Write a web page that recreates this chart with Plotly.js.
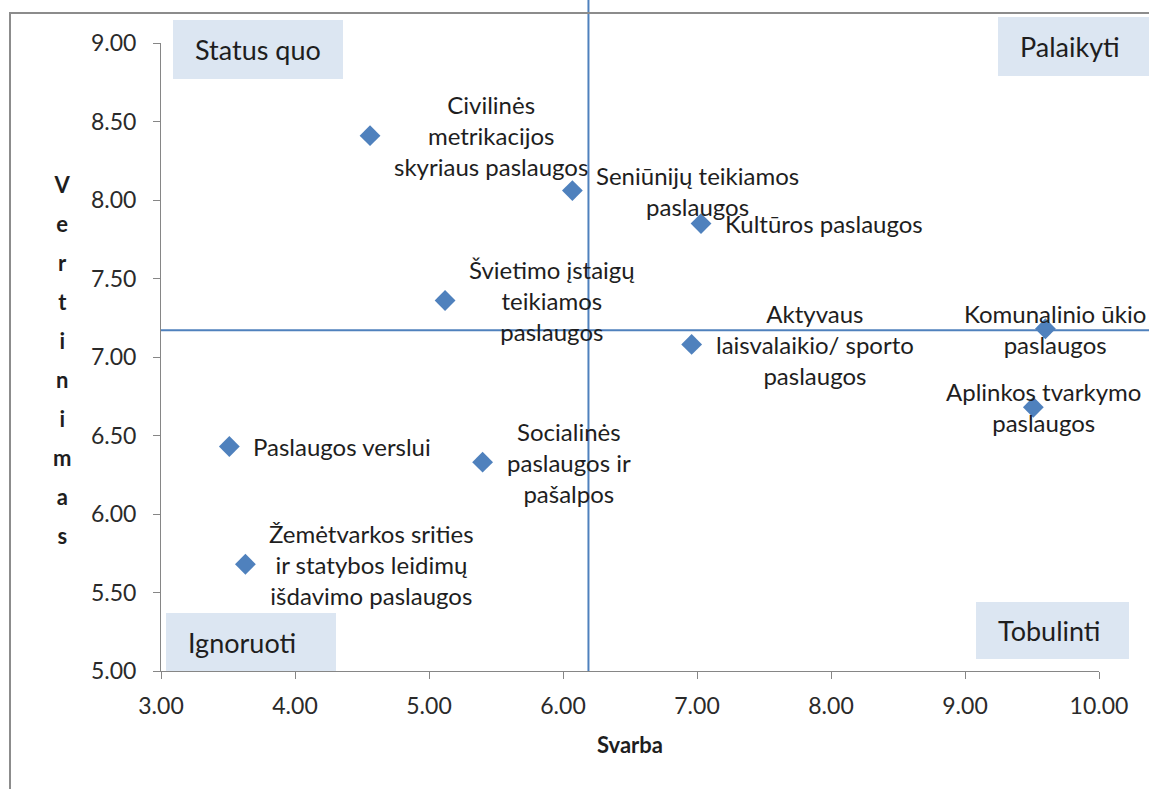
<!DOCTYPE html>
<html><head><meta charset="utf-8">
<script src="https://cdn.plot.ly/plotly-3.0.1.min.js"></script>
<style>html,body{margin:0;padding:0;background:#fff}</style>
</head><body><div id="chart" style="width:1149px;height:789px"></div>
<script>
// ---- data ----
const services = [
  "Civilinės<br>metrikacijos<br>skyriaus paslaugos",
  "Seniūnijų teikiamos<br>paslaugos",
  "Kultūros paslaugos",
  "Švietimo įstaigų<br>teikiamos<br>paslaugos",
  "Aktyvaus<br>laisvalaikio/ sporto<br>paslaugos",
  "Komunalinio ūkio<br>paslaugos",
  "Aplinkos tvarkymo<br>paslaugos",
  "Paslaugos verslui",
  "Socialinės<br>paslaugos ir<br>pašalpos",
  "Žemėtvarkos srities<br>ir statybos leidimų<br>išdavimo paslaugos"
];
const svarba = [4.56, 6.07, 7.03, 5.12, 6.96, 9.60, 9.51, 3.51, 5.40, 3.63];
const vertinimas = [8.41, 8.06, 7.85, 7.36, 7.08, 7.18, 6.68, 6.43, 6.33, 5.68];
const labelPlacement = ["right","right","right","right","right","center","center","right","right","right"];
const svarbaRiba = 6.19;
const vertinimasRiba = 7.17;
const quadrantLabels = ["Status quo", "Palaikyti", "Ignoruoti", "Tobulinti"];
const xTickVals = [3, 4, 5, 6, 7, 8, 9, 10];
const yTickVals = [5, 5.5, 6, 6.5, 7, 7.5, 8, 8.5, 9];
const xTitle = "Svarba";
const yTitle = "Vertinimas";

// ---- geometry / style ----
const FONT = "Lato, 'Open Sans', sans-serif";
const TXT = "#1e1e1e";
const BLUE = "#4F81BD";
const GRAY = "#868686";
const L = 161, T = 43, W = 938, H = 628;
const px = v => (v - L) / W;
const py = v => (T + H - v) / H;

const trace = {
  type: "scatter", mode: "markers",
  x: svarba, y: vertinimas, text: services,
  marker: {symbol: "diamond", size: 16, color: BLUE},
  cliponaxis: false, hoverinfo: "text", showlegend: false
};

const annotations = services.map((s, i) => ({
  x: svarba[i], y: vertinimas[i], xref: "x", yref: "y",
  text: s, showarrow: false,
  xanchor: labelPlacement[i] === "right" ? "left" : "center",
  yanchor: "middle",
  xshift: labelPlacement[i] === "right" ? 22 : 10,
  align: "center",
  font: {family: FONT, size: 24, color: TXT}
}));

// quadrant label boxes (pixel boxes: x0,x1,y0,y1)
const boxes = [
  [173, 343, 20, 79],
  [998, 1170, 17, 76],
  [166, 336, 613, 671],
  [976, 1129, 602, 659]
];
const shapes = [];
boxes.forEach((b, i) => {
  shapes.push({type: "rect", xref: "paper", yref: "paper",
    x0: px(b[0]), x1: px(b[1]), y0: py(b[3]), y1: py(b[2]),
    fillcolor: "#DCE6F2", line: {width: 0}, layer: "below"});
  annotations.push({xref: "paper", yref: "paper",
    x: px(b[0] + 20), y: py((b[2] + b[3]) / 2),
    xanchor: "left", yanchor: "middle", showarrow: false,
    text: quadrantLabels[i],
    font: {family: FONT, size: 27, color: TXT}});
});

// reference lines
shapes.push({type: "line", xref: "x", yref: "paper",
  x0: svarbaRiba, x1: svarbaRiba, y0: 0, y1: py(0),
  line: {color: BLUE, width: 2}});
shapes.push({type: "line", xref: "paper", yref: "y",
  x0: 0, x1: px(1160), y0: vertinimasRiba, y1: vertinimasRiba,
  line: {color: BLUE, width: 2}});

// outer frame
shapes.push({type: "rect", xref: "paper", yref: "paper",
  x0: px(10), x1: px(1175), y0: py(810), y1: py(13),
  line: {color: "#8C8C8C", width: 2}, fillcolor: "rgba(0,0,0,0)"});

// vertical y-axis title
annotations.push({xref: "paper", yref: "paper",
  x: px(62), y: py(360), xanchor: "center", yanchor: "middle",
  showarrow: false, align: "center",
  text: yTitle.split("").map(c => "<span style='font-size:22px'>" + c + "</span>").join("<br>"),
  font: {family: FONT, size: 30, color: TXT, weight: 700}});

const layout = {
  width: 1149, height: 789,
  margin: {l: L, r: 1149 - L - W, t: T, b: 789 - T - H},
  paper_bgcolor: "#fff", plot_bgcolor: "#fff",
  showlegend: false,
  font: {family: FONT, color: TXT},
  xaxis: {
    range: [3, 10], tickvals: xTickVals, tickformat: ".2f",
    showgrid: false, zeroline: false, showline: true,
    linecolor: GRAY, linewidth: 1, ticks: "outside", ticklen: 7, tickcolor: GRAY,
    tickfont: {family: FONT, size: 23, color: "#2a2a2a"},
    ticklabelstandoff: 7,
    title: {text: xTitle, font: {family: FONT, size: 22, color: TXT, weight: 700}, standoff: 20}
  },
  yaxis: {
    range: [5, 9], tickvals: yTickVals, tickformat: ".2f",
    showgrid: false, zeroline: false, showline: true,
    linecolor: GRAY, linewidth: 1, ticks: "outside", ticklen: 7, tickcolor: GRAY,
    tickfont: {family: FONT, size: 23, color: "#2a2a2a"},
    ticklabelstandoff: 12
  },
  shapes: shapes,
  annotations: annotations
};

Plotly.newPlot("chart", [trace], layout, {displayModeBar: false, staticPlot: true});
</script>
</body></html>
